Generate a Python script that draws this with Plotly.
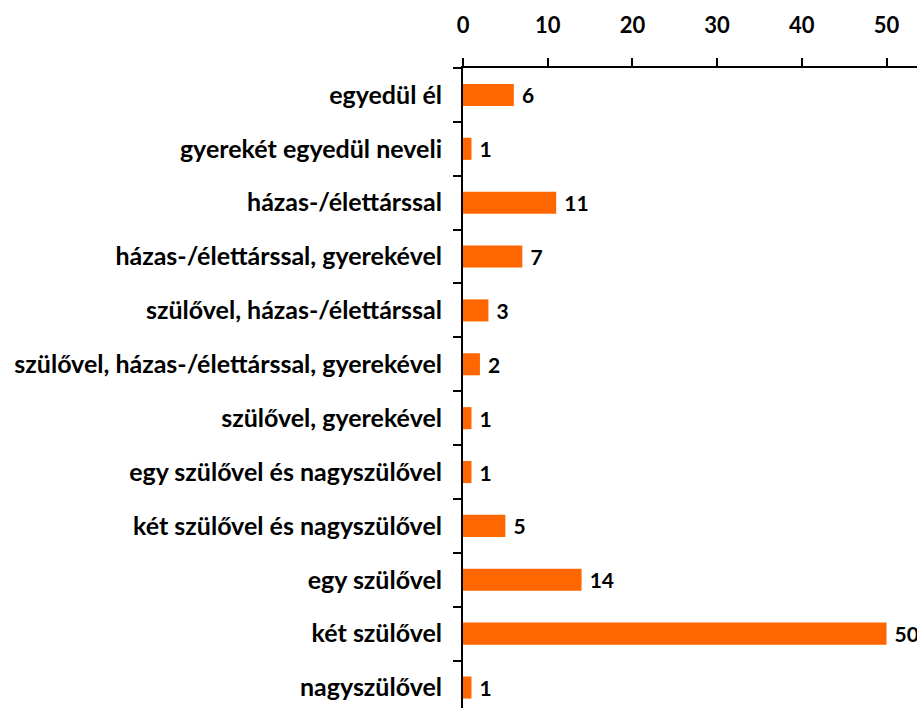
import plotly.graph_objects as go

# household categories, top to bottom
categories = [
    "egyedül él",
    "gyerekét egyedül neveli",
    "házas-/élettárssal",
    "házas-/élettárssal, gyerekével",
    "szülővel, házas-/élettárssal",
    "szülővel, házas-/élettárssal, gyerekével",
    "szülővel, gyerekével",
    "egy szülővel és nagyszülővel",
    "két szülővel és nagyszülővel",
    "egy szülővel",
    "két szülővel",
    "nagyszülővel",
]
values = [6, 1, 11, 7, 3, 2, 1, 1, 5, 14, 50, 1]
x_ticks = [0, 10, 20, 30, 40, 50]

font_family = "Lato, 'Open Sans', sans-serif"

fig = go.Figure(go.Bar(
    y=categories,
    x=values,
    orientation="h",
    width=0.41,
    marker=dict(color="#FF6600", line=dict(width=0)),
    texttemplate=" %{x}",
    textposition="outside",
    constraintext="none",
    textfont=dict(family=font_family, size=21, color="#000000", weight="bold"),
    cliponaxis=False,
))

fig.update_layout(
    width=917,
    height=708,
    margin=dict(l=463, r=0, t=68, b=0),
    paper_bgcolor="white",
    plot_bgcolor="white",
    showlegend=False,
    font=dict(family=font_family, size=21, color="#000000", weight="bold"),
)

fig.update_xaxes(
    side="top",
    range=[0, 53.6],
    tickvals=x_ticks,
    automargin=False,
    showgrid=False,
    zeroline=False,
    showline=True,
    linecolor="#000000",
    linewidth=2,
    ticks="outside",
    ticklen=8,
    tickwidth=2,
    tickcolor="#000000",
    ticklabelstandoff=16,
    tickfont=dict(family=font_family, size=22, weight="bold"),
)

fig.update_yaxes(
    categoryorder="array",
    categoryarray=categories,
    range=[11.38, -0.5],
    automargin=False,
    showgrid=False,
    zeroline=False,
    showline=True,
    linecolor="#000000",
    linewidth=2,
    ticks="outside",
    tickson="boundaries",
    ticklen=8,
    tickwidth=2,
    tickcolor="#000000",
    ticklabelstandoff=14,
    tickfont=dict(family=font_family, size=25, weight="bold"),
)

# drop the default page margin so the figure fills the window exactly
fig.write_html(
    "out.html",
    config={"displayModeBar": False},
    post_script="document.body.style.margin='0';document.body.style.overflow='hidden';",
)
